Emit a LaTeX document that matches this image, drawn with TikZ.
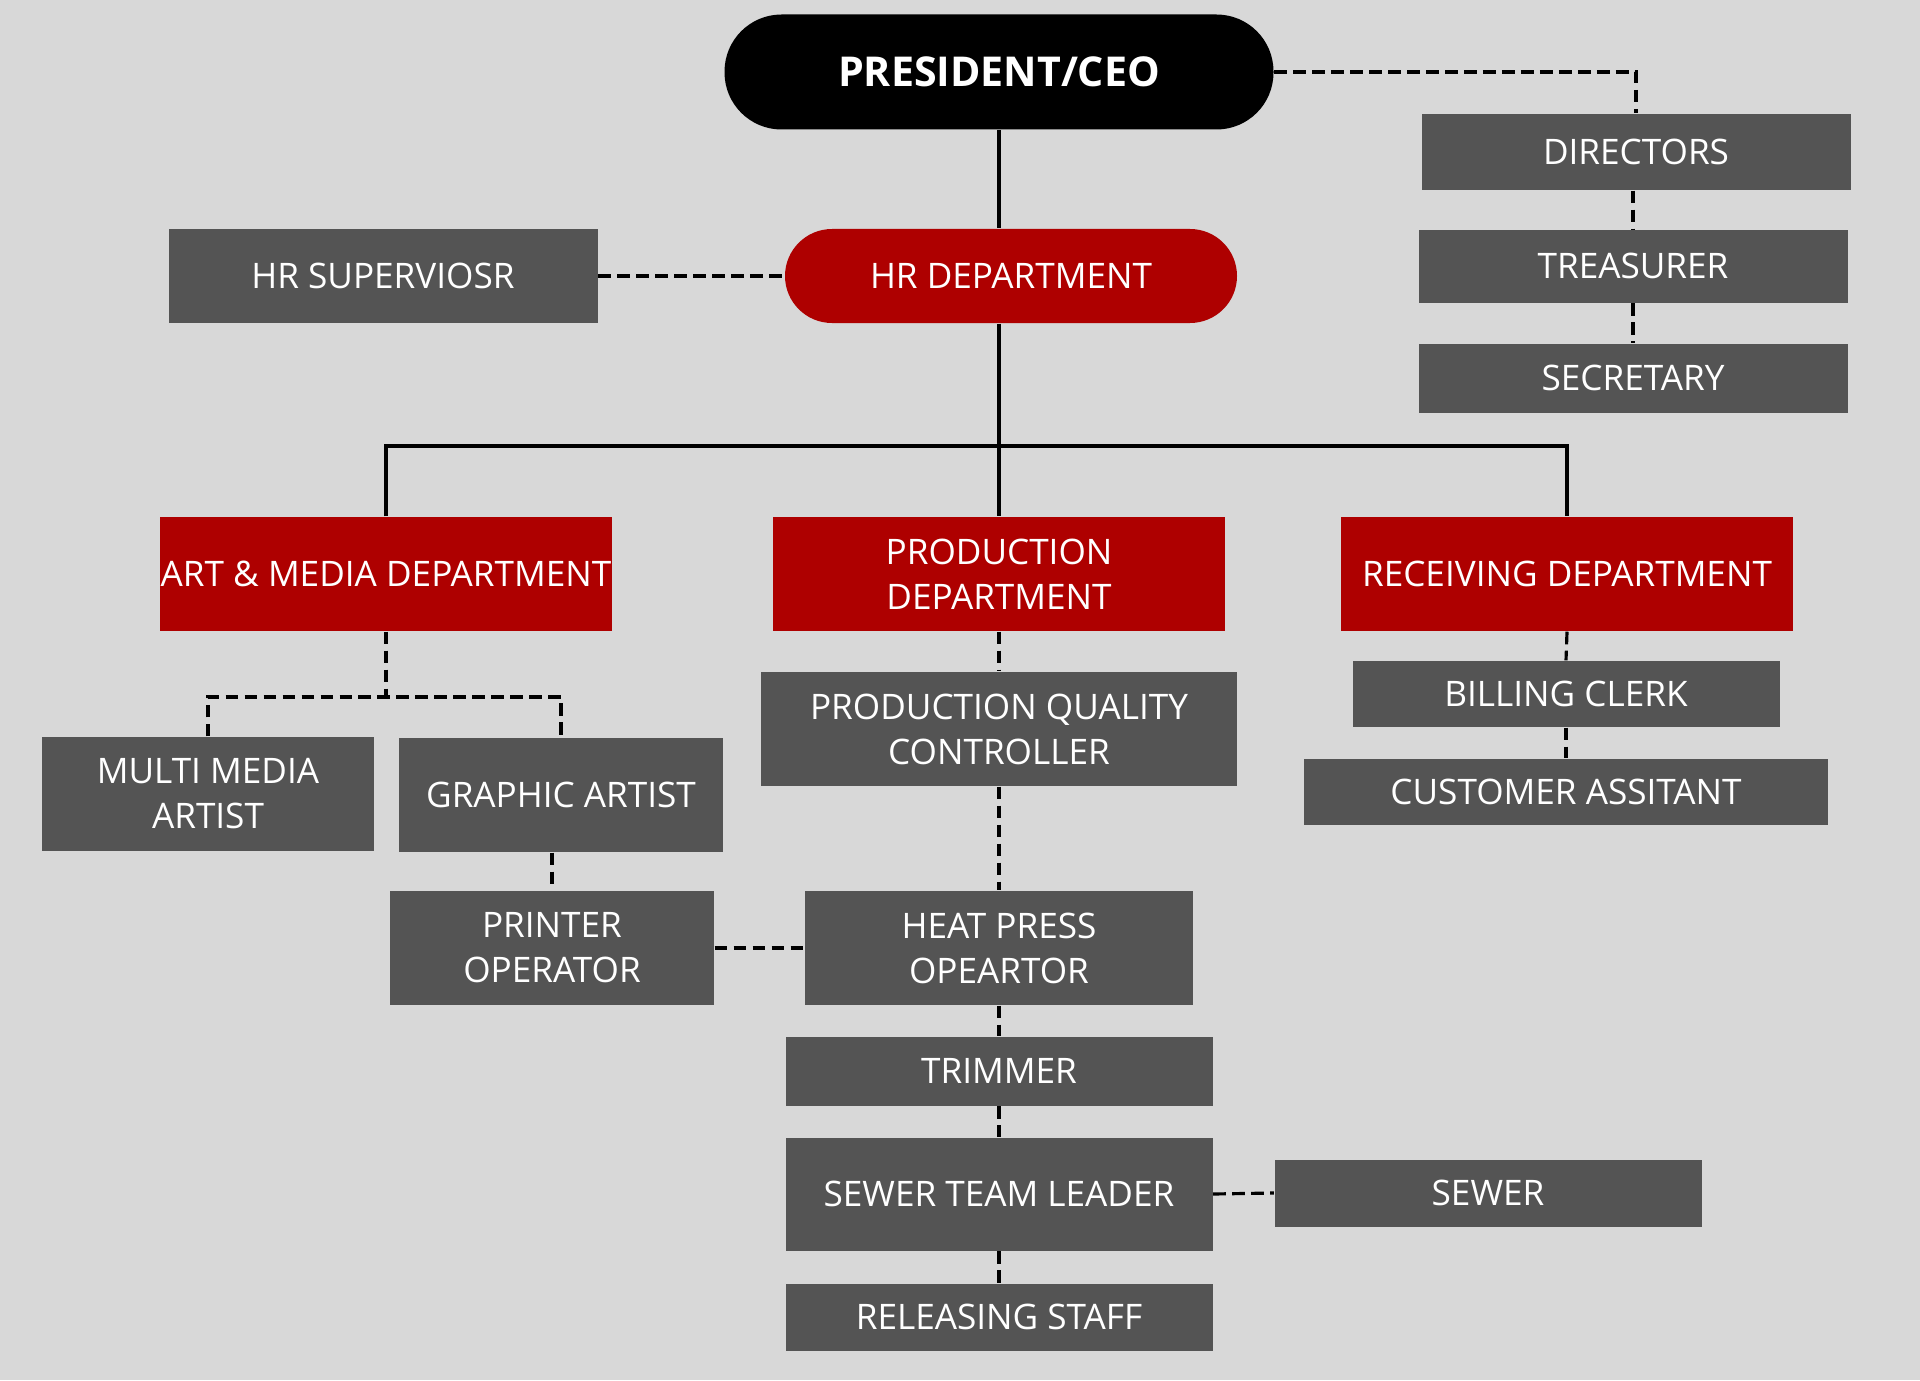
\documentclass[tikz,border=0pt]{standalone}
\usepackage{fontspec}
\setmainfont{Open Sans}
\usetikzlibrary{positioning, calc}
\definecolor{bggray}{RGB}{216,216,216}
\definecolor{boxgray}{RGB}{84,84,84}
\definecolor{deptred}{RGB}{174,0,0}

\begin{document}
\begin{tikzpicture}[
    every node/.style={font=\fontsize{10}{12.8}\selectfont, text=white, align=center, inner sep=0pt},
    role/.style={fill=boxgray, minimum width=4.27cm, minimum height=0.68cm},
    dept/.style={fill=deptred, minimum width=4.52cm, minimum height=1.14cm},
    link/.style={line width=0.9pt},
    dashlink/.style={line width=0.9pt, dash pattern=on 3.6pt off 1.8pt},
]
    % Background
    \fill[bggray] (0,0) rectangle (19.2,-13.8);

    % Top
    \node[fill=black, rounded corners=0.57cm, minimum width=5.49cm, minimum height=1.15cm,
          font=\bfseries\fontsize{11.7}{14}\selectfont] (pres) at (9.99,-0.72) {PRESIDENT/CEO};
    \node[role, minimum width=4.29cm, minimum height=0.76cm] (dir) at (16.36,-1.52) {DIRECTORS};
    \node[role, minimum width=4.29cm, minimum height=0.73cm] (treas) at (16.33,-2.66) {TREASURER};
    \node[role, minimum width=4.29cm, minimum height=0.69cm] (sec) at (16.33,-3.78) {SECRETARY};

    % HR
    \node[role, minimum width=4.29cm, minimum height=0.94cm] (hrsup) at (3.83,-2.76) {HR SUPERVIOSR};
    \node[dept, rounded corners=0.47cm, minimum height=0.94cm] (hr) at (10.11,-2.76) {HR DEPARTMENT};

    % Departments
    \node[dept] (art) at (3.86,-5.74) {ART \& MEDIA DEPARTMENT};
    \node[dept] (prod) at (9.99,-5.74) {PRODUCTION\\DEPARTMENT};
    \node[dept] (recv) at (15.67,-5.74) {RECEIVING DEPARTMENT};

    % Art & media staff
    \node[role, minimum width=3.32cm, minimum height=1.14cm] (mma) at (2.08,-7.94) {MULTI MEDIA\\ARTIST};
    \node[role, minimum width=3.24cm, minimum height=1.14cm] (graph) at (5.61,-7.95) {GRAPHIC ARTIST};
    \node[role, minimum width=3.24cm, minimum height=1.14cm] (printer) at (5.52,-9.48) {PRINTER\\OPERATOR};

    % Production staff
    \node[role, minimum width=4.76cm, minimum height=1.14cm] (pqc) at (9.99,-7.29) {PRODUCTION QUALITY\\CONTROLLER};
    \node[role, minimum width=3.88cm, minimum height=1.14cm] (heat) at (9.99,-9.48) {HEAT PRESS\\OPEARTOR};
    \node[role, minimum height=0.69cm] (trim) at (9.99,-10.71) {TRIMMER};
    \node[role, minimum height=1.13cm] (stl) at (9.99,-11.94) {SEWER TEAM LEADER};
    \node[role, minimum height=0.67cm] (sewer) at (14.88,-11.93) {SEWER};
    \node[role, minimum height=0.67cm] (rel) at (9.99,-13.17) {RELEASING STAFF};

    % Receiving staff
    \node[role, minimum height=0.66cm] (bill) at (15.66,-6.94) {BILLING CLERK};
    \node[role, minimum width=5.24cm, minimum height=0.66cm] (cust) at (15.66,-7.92) {CUSTOMER ASSITANT};

    % Solid links
    \coordinate (bar) at (9.99,-4.46);
    \draw[link] (pres.south) -- (pres.south |- hr.north);
    \draw[link] (pres.south |- hr.south) -- (prod.north);
    \draw[link] (art.north) |- (bar) -| (recv.north);

    % Dashed links
    \draw[dashlink] (pres.east) -| (dir.north);
    \draw[dashlink] (dir.south -| sec.north) -- (treas.north -| sec.north);
    \draw[dashlink] (treas.south) -- (sec.north);
    \draw[dashlink] (hrsup.east) -- (hr.west);

    \coordinate (artsplit) at (3.86,-6.97);
    \draw[dashlink] (art.south) -- (artsplit);
    \draw[dashlink] (mma.north) |- (artsplit) -| (graph.north);
    \draw[dashlink] (printer.north |- graph.south) -- (printer.north);
    \draw[dashlink] (printer.east) -- (heat.west);

    \draw[dashlink] (prod.south) -- (pqc.north);
    \draw[dashlink] (pqc.south) -- (heat.north);
    \draw[dashlink] (heat.south) -- (trim.north);
    \draw[dashlink] (trim.south) -- (stl.north);
    \draw[dashlink] (stl.south) -- (rel.north);
    \draw[dashlink] (stl.east) -- (sewer.west);

    \draw[dashlink] (recv.south) -- (bill.north);
    \draw[dashlink] (bill.south) -- (cust.north);
\end{tikzpicture}
\end{document}
